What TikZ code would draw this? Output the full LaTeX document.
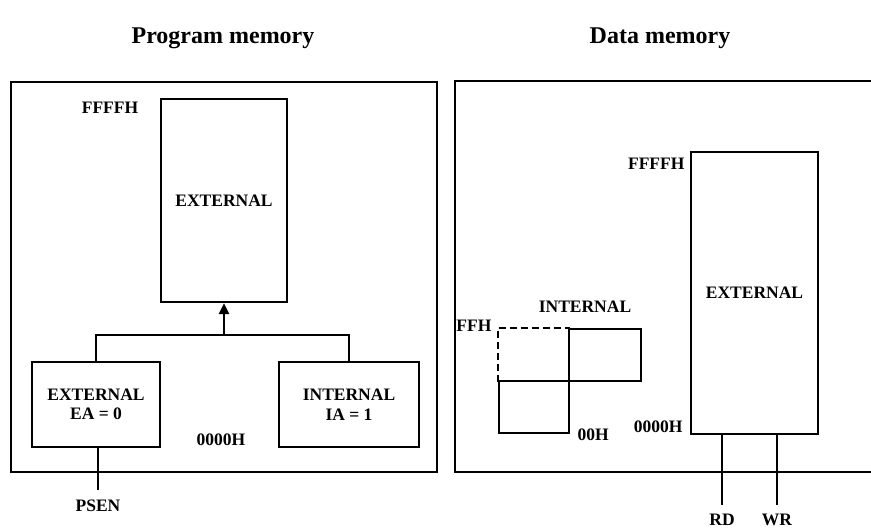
\documentclass[tikz,border=0pt]{standalone}
\usepackage{fontspec}
\setmainfont{Liberation Serif}
\usetikzlibrary{arrows.meta, positioning}

\begin{document}
\begin{tikzpicture}[
  x=1pt, y=-1pt,
  every node/.style={font=\bfseries\fontsize{17.5}{19.5}\selectfont},
  title/.style={font=\bfseries\fontsize{24}{27}\selectfont},
  frame/.style={draw, line width=2.4pt},
  mem/.style={draw, line width=2.2pt, inner sep=0pt, align=center},
  blk/.style={line width=2.2pt, inner sep=0pt, minimum size=0pt},
  wire/.style={line width=2.2pt},
  arrow/.style={-{Triangle[width=10pt,length=11pt]}, line width=2.2pt}
]
\useasboundingbox (0,0) rectangle (871,530);

% Titles
\node[title] (progtitle) at (223,38) {Program memory};
\node[title] (datatitle) at (660,38) {Data memory};

% Frames
\draw[frame] (11,82) rectangle (437,472);
\draw[frame] (872,81) -- (455,81) -- (455,472) -- (872,472);

% Program memory
\node[mem, minimum width=126pt, minimum height=203pt] (pext) at (224,200.5) {EXTERNAL};
\node[mem, minimum width=128pt, minimum height=85pt] (extl) at (96,404.5) {EXTERNAL\\EA = 0};
\node[mem, minimum width=140pt, minimum height=85pt] (intl) at (349,404.5) {INTERNAL\\IA = 1};
\coordinate (junc) at (224,335);
\node (pffff) at (110,108) {FFFFH};
\node (p0000) at (221,440) {0000H};
\node[outer sep=7pt] (psen) at (98,506) {PSEN};

% Data memory
\node[mem, minimum width=127pt, minimum height=282pt] (dext) at (754.5,293) {EXTERNAL};
\node[blk, minimum width=70pt, minimum height=52pt] (ffblk) at (534,355) {};
\node[blk, draw, minimum width=72pt, minimum height=52pt] (upblk) at (605,355) {};
\node[blk, draw, minimum width=70pt, minimum height=52pt] (lowblk) at (534,407) {};
\node (dint) at (585,307) {INTERNAL};
\node[anchor=east] (ffh) at ([xshift=-3pt,yshift=2pt]ffblk.north west) {FFH};
\node[anchor=west] (zzh) at ([xshift=4pt,yshift=-1pt]lowblk.south east) {00H};
\node[anchor=east] (dffff) at (688,164) {FFFFH};
\node[anchor=east] (d0000) at (686,427) {0000H};
\node[outer sep=6pt] (rd) at (722,520) {RD};
\node[outer sep=6pt] (wr) at (777,520) {WR};

% Connectors
\draw[wire] (extl.north) |- (junc) -| (intl.north);
\draw[arrow] (junc) -- (pext.south);
\draw[wire] (psen.north |- extl.south) -- (psen.north);
\draw[line width=2.2pt, dash pattern=on 7pt off 4pt] (ffblk.south west) |- (ffblk.north east);
\draw[wire] (rd.north |- dext.south) -- (rd.north);
\draw[wire] (wr.north |- dext.south) -- (wr.north);
\end{tikzpicture}
\end{document}
